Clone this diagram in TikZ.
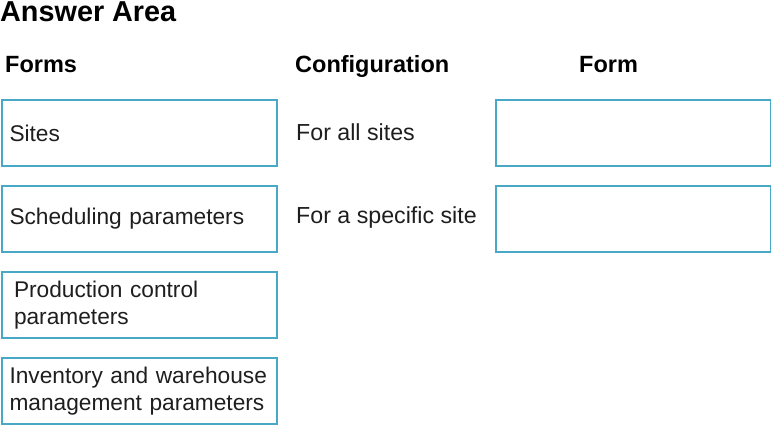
\documentclass[tikz,border=0pt]{standalone}
\usepackage{fontspec}
\setmainfont{Liberation Sans}
\definecolor{boxblue}{RGB}{72,168,198}
\definecolor{inkgray}{RGB}{30,30,30}
\begin{document}
\begin{tikzpicture}[
    x=1pt, y=-1pt,
    % Define styles
    box/.style={
        draw=boxblue,
        line width=2pt,
        rectangle,
        anchor=north west,
        minimum width=275pt,
        minimum height=66pt,
        inner xsep=7.5pt,
        text width=260pt,
        align=left,
        font=\fontsize{22.7}{27.5}\selectfont,
        text=inkgray
    },
    label_text/.style={
        anchor=base west,
        inner sep=0pt,
        font=\fontsize{23.2}{27.5}\selectfont,
        text=inkgray
    },
    head_text/.style={
        anchor=base west,
        inner sep=0pt,
        font=\fontsize{23.5}{28}\selectfont\bfseries,
        text=black
    },
    title_text/.style={
        anchor=base west,
        inner sep=0pt,
        font=\fontsize{28.8}{34}\selectfont\bfseries,
        text=black
    }
]
    \useasboundingbox (0,0) rectangle (771,426);

    % Title
    \node[title_text] (title) at (0,21) {Answer Area};

    % --- Column headers ---
    \node[head_text] (forms) at (5,72) {Forms};
    \node[head_text] (config) at (295,72) {Configuration};
    \node[head_text] (form) at (579,72) {Form};

    % --- Left Column (forms) ---
    \node[box] (sites) at (1,99) {Sites};
    \node[box] (sched) at (1,185) {Scheduling parameters};
    \node[box, inner xsep=12pt, text width=251pt] (prod) at (1,271) {Production control\\parameters};
    \node[box] (invent) at (1,357) {Inventory and warehouse\\management parameters};

    % --- Middle Column (configuration) ---
    \node[label_text] (allsites) at (296,140) {For all sites};
    \node[label_text] (onesite) at (296,223) {For a specific site};

    % --- Right Column (empty answer boxes) ---
    \node[box] (ansall) at (495,99) {};
    \node[box] (ansone) at (495,185) {};

\end{tikzpicture}
\end{document}
